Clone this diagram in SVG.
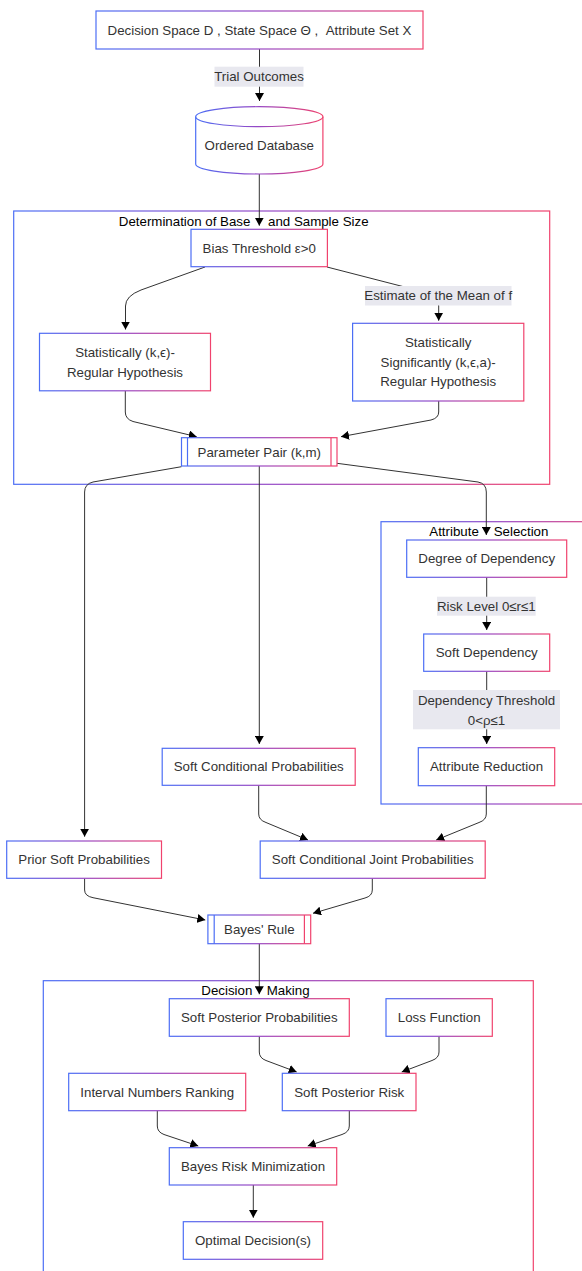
<svg xmlns="http://www.w3.org/2000/svg" width="582" height="1271" viewBox="0 0 582 1271">
<defs>
<linearGradient id="g" x1="0" y1="0" x2="1" y2="0">
<stop offset="0" stop-color="#4c6ef5"/>
<stop offset="0.5" stop-color="#9848c4"/>
<stop offset="1" stop-color="#f0426d"/>
</linearGradient>
<marker id="ah" viewBox="0 0 8 9" refX="8" refY="4.5" markerWidth="8" markerHeight="9" markerUnits="userSpaceOnUse" orient="auto">
<path d="M0,0 L8,4.5 L0,9 z" fill="#000"/>
</marker>
<style>
.n{fill:#fff;stroke:url(#g);stroke-width:1.2}
.c{fill:none;stroke:url(#g);stroke-width:1.2}
.e{fill:none;stroke:#333;stroke-width:1;marker-end:url(#ah)}
.t{font-family:"Liberation Sans",Arial,sans-serif;font-size:13.3px;fill:#333;text-anchor:middle;dominant-baseline:central}
.ct{font-family:"Liberation Sans",Arial,sans-serif;font-size:13.3px;fill:#000;dominant-baseline:central}
.lb{fill:#e8e8ef}
.il{stroke:#4c6ef5;stroke-width:1.2}
.ir{stroke:#f0426d;stroke-width:1.2}
</style>
</defs>

<g id="clusters">
<g id="cluster-base">
<rect class="c" x="13.7" y="211" width="536" height="273.3"/>
<text class="ct" y="220.7"><tspan x="118.8">Determination of Base</tspan><tspan x="268">and Sample Size</tspan></text>
</g>
<g id="cluster-attr">
<rect class="c" x="381" y="521.7" width="240" height="282.3"/>
<text class="ct" y="531.3"><tspan x="429.3">Attribute</tspan><tspan x="493.7">Selection</tspan></text>
</g>
<g id="cluster-decision">
<rect class="c" x="43.3" y="980.7" width="490" height="320"/>
<text class="ct" y="990"><tspan x="201.3">Decision</tspan><tspan x="266.7">Making</tspan></text>
</g>
</g>

<g id="edges">
<path class="e" d="M259.5,49 L259.5,101"/>
<path class="e" d="M259.3,174 L259.3,225.7"/>
<path class="e" d="M205,267 L141,290 Q125.5,296 125.5,306 L125.5,329.5"/>
<path class="e" d="M327,267 L428,293 Q438.7,296 438.7,306 L438.7,320.7"/>
<path class="e" d="M125.3,391 L125.3,412 Q125.3,419 133,421.5 L196.7,436.7"/>
<path class="e" d="M438.7,401 L438.7,412 Q438.7,418 431,420 L341,436.7"/>
<path class="e" d="M181.5,466.7 L93,482 Q84.6,484 84.6,492 L84.6,836.7"/>
<path class="e" d="M259.3,466 L259.3,744"/>
<path class="e" d="M337,463.3 L478,482 Q486.3,483.5 486.3,492 L486.3,535"/>
<path class="e" d="M486.7,577.3 L486.7,630"/>
<path class="e" d="M486.7,671.3 L486.7,744"/>
<path class="e" d="M258.7,785.3 L258.7,814 Q258.7,820 266,822.5 L308,840"/>
<path class="e" d="M486.3,785.7 L486.3,814 Q486.3,820 479,822.5 L436.2,840"/>
<path class="e" d="M84.6,878.3 L84.6,890 Q84.6,896 93,897.7 L205.3,920"/>
<path class="e" d="M372.3,878.3 L372.3,890 Q372.3,896 365,898 L313,913.3"/>
<path class="e" d="M259.3,943.7 L259.3,994.3"/>
<path class="e" d="M259.3,1036.3 L259.3,1052 Q259.3,1058 266,1060.5 L296.7,1072"/>
<path class="e" d="M439,1036.3 L439,1052 Q439,1058 432,1060.5 L401.7,1072"/>
<path class="e" d="M157.3,1110.7 L157.3,1126 Q157.3,1132 164,1134.5 L198.3,1146"/>
<path class="e" d="M349.3,1110.7 L349.3,1126 Q349.3,1132 342,1134.5 L307.7,1146"/>
<path class="e" d="M253.3,1185 L253.3,1217.7"/>
</g>

<g id="edge-labels">
<g id="lbl-trial"><rect class="lb" x="214.5" y="66.7" width="89" height="20"/><text class="t" x="259" y="76.7">Trial Outcomes</text></g>
<g id="lbl-estimate"><rect class="lb" x="365" y="286" width="146.5" height="19.5"/><text class="t" x="438.2" y="295.7">Estimate of the Mean of f</text></g>
<g id="lbl-risk"><rect class="lb" x="437" y="596.7" width="98.7" height="19"/><text class="t" x="486.3" y="606.2">Risk Level 0≤r≤1</text></g>
<g id="lbl-dep"><rect class="lb" x="413" y="690" width="147" height="39.3"/><text class="t" x="486.5" y="700">Dependency Threshold</text><text class="t" x="486.5" y="720">0&lt;ρ≤1</text></g>
</g>

<g id="n-spaces"><rect class="n" x="96" y="11" width="327" height="38"/><text class="t" x="259.5" y="30" xml:space="preserve">Decision Space D , State Space Θ ,  Attribute Set X</text></g>
<g id="n-db">
<path class="n" d="M195.7,116.7 A63.6,10 0 0 1 322.9,116.7 L322.9,164 A63.6,10 0 0 1 195.7,164 Z"/>
<path fill="none" stroke="url(#g)" stroke-width="1.2" d="M195.7,116.7 A63.6,10 0 0 0 322.9,116.7"/>
<text class="t" x="259.3" y="145">Ordered Database</text>
</g>
<g id="n-bias"><rect class="n" x="191" y="229.3" width="136.4" height="37.4"/><text class="t" x="259.2" y="248">Bias Threshold ε&gt;0</text></g>
<g id="n-hyp1"><rect class="n" x="39.5" y="333.3" width="171" height="57.5"/><text class="t" x="125" y="352.3">Statistically (k,ϵ)-</text><text class="t" x="125" y="372">Regular Hypothesis</text></g>
<g id="n-hyp2"><rect class="n" x="352.6" y="323.3" width="171.2" height="77.7"/><text class="t" x="438.2" y="342.3">Statistically</text><text class="t" x="438.2" y="362">Significantly (k,ϵ,a)-</text><text class="t" x="438.2" y="381.7">Regular Hypothesis</text></g>
<g id="n-param"><rect class="n" x="181.5" y="437.7" width="155.5" height="28.3"/><line class="il" x1="187.5" y1="437.7" x2="187.5" y2="466"/><line class="ir" x1="331" y1="437.7" x2="331" y2="466"/><text class="t" x="259.3" y="452">Parameter Pair (k,m)</text></g>
<g id="n-degree"><rect class="n" x="406.7" y="540" width="160" height="37.3"/><text class="t" x="486.7" y="558.7">Degree of Dependency</text></g>
<g id="n-softdep"><rect class="n" x="423.7" y="634" width="126" height="37.3"/><text class="t" x="486.7" y="652.7">Soft Dependency</text></g>
<g id="n-reduct"><rect class="n" x="418.3" y="747.7" width="136.4" height="38"/><text class="t" x="486.5" y="766.7">Attribute Reduction</text></g>
<g id="n-scp"><rect class="n" x="162.2" y="748.3" width="193" height="37"/><text class="t" x="258.7" y="766.8">Soft Conditional Probabilities</text></g>
<g id="n-prior"><rect class="n" x="6.7" y="841" width="154.8" height="37.3"/><text class="t" x="84.1" y="859.7">Prior Soft Probabilities</text></g>
<g id="n-joint"><rect class="n" x="260.2" y="841" width="225" height="37.3"/><text class="t" x="372.7" y="859.7">Soft Conditional Joint Probabilities</text></g>
<g id="n-bayes"><rect class="n" x="207.9" y="915" width="102.8" height="28.7"/><line class="il" x1="214.2" y1="915" x2="214.2" y2="943.7"/><line class="ir" x1="304.4" y1="915" x2="304.4" y2="943.7"/><text class="t" x="259.3" y="929.4">Bayes' Rule</text></g>
<g id="n-spp"><rect class="n" x="169.3" y="998.7" width="180" height="37.6"/><text class="t" x="259.3" y="1017.5">Soft Posterior Probabilities</text></g>
<g id="n-loss"><rect class="n" x="386" y="998.7" width="106.3" height="37.6"/><text class="t" x="439.2" y="1017.5">Loss Function</text></g>
<g id="n-inr"><rect class="n" x="68.7" y="1073.3" width="177" height="37.4"/><text class="t" x="157.2" y="1092">Interval Numbers Ranking</text></g>
<g id="n-spr"><rect class="n" x="282.3" y="1073.3" width="133.7" height="37.4"/><text class="t" x="349.2" y="1092">Soft Posterior Risk</text></g>
<g id="n-brm"><rect class="n" x="169.3" y="1147.7" width="167.4" height="37.3"/><text class="t" x="253" y="1166.4">Bayes Risk Minimization</text></g>
<g id="n-opt"><rect class="n" x="183.3" y="1221.7" width="139.4" height="37.6"/><text class="t" x="253" y="1240.5">Optimal Decision(s)</text></g>
</svg>
